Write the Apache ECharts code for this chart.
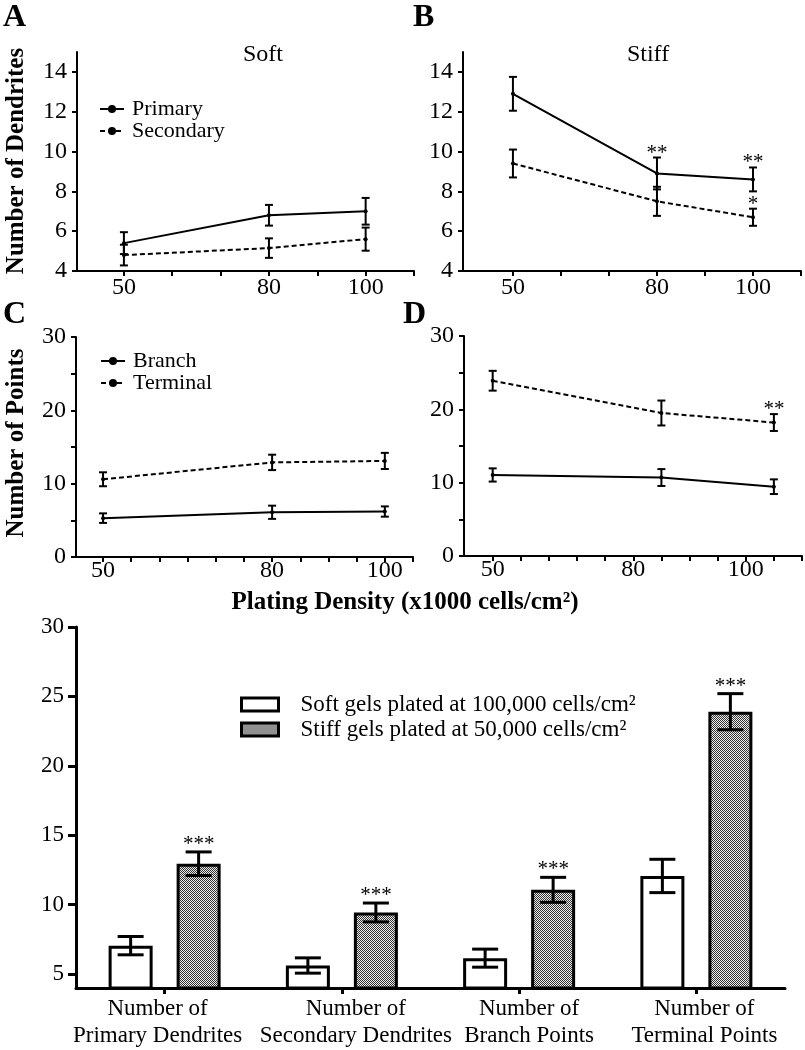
<!DOCTYPE html>
<html>
<head>
<meta charset="utf-8">
<script src="https://cdn.jsdelivr.net/npm/echarts@6/dist/echarts.min.js"></script>
<style>html,body{margin:0;padding:0;background:#fff;}#c{width:805px;height:1050px;}</style>
</head>
<body>
<div id="c"></div>
<script>
// ---------- DATA ----------
const densities = [50, 80, 100];
// Panel A (Soft) - dendrites
const softPrimary = [5.4, 6.8, 7.0];
const softPrimaryErr = [0.55, 0.52, 0.67];
const softSecondary = [4.8, 5.15, 5.6];
const softSecondaryErr = [0.52, 0.49, 0.58];
// Panel B (Stiff) - dendrites
const stiffPrimary = [12.9, 8.9, 8.6];
const stiffPrimaryErr = [0.85, 0.8, 0.6];
const stiffPrimarySig = ['', '**', '**'];
const stiffSecondary = [9.4, 7.5, 6.7];
const stiffSecondaryErr = [0.7, 0.73, 0.43];
const stiffSecondarySig = ['', '', '*'];
// Panel C (Soft) - points
const softBranch = [5.3, 6.1, 6.2];
const softBranchErr = [0.65, 0.9, 0.7];
const softTerminal = [10.6, 12.9, 13.1];
const softTerminalErr = [0.95, 1.05, 1.1];
// Panel D (Stiff) - points
const stiffBranch = [11.05, 10.7, 9.45];
const stiffBranchErr = [0.9, 1.15, 1.0];
const stiffTerminal = [23.9, 19.5, 18.2];
const stiffTerminalErr = [1.35, 1.7, 1.15];
const stiffTerminalSig = ['', '', '**'];
// Tick labels
const abTickValues = [50, 60, 70, 80, 90, 100, 110];
const abLabelValues = [50, 80, 100];
const cdTickValues = [50, 55, 60, 65, 70, 75, 80, 85, 90, 95, 100, 105];
const cLabelValues = [50, 80, 100];
const dLabelValues = [50, 75, 95];      // positions where panel D prints its labels
const dLabelTexts = ['50', '80', '100']; // texts printed there
const dendriteTicks = [4, 6, 8, 10, 12, 14];
const pointTicks = [0, 5, 10, 15, 20, 25, 30];
const pointLabels = [0, 10, 20, 30];
// Bottom bar chart
const barCategories = ['Number of\nPrimary Dendrites', 'Number of\nSecondary Dendrites', 'Number of\nBranch Points', 'Number of\nTerminal Points'];
const softBar = [7.05, 5.62, 6.15, 12.07];
const softBarErr = [0.66, 0.55, 0.65, 1.2];
const stiffBar = [12.95, 9.44, 11.07, 23.9];
const stiffBarErr = [0.85, 0.68, 0.9, 1.3];
const stiffBarSig = ['***', '***', '***', '***'];
const barTicks = [5, 10, 15, 20, 25, 30];
const softName = 'Soft gels plated at 100,000 cells/cm²';
const stiffName = 'Stiff gels plated at 50,000 cells/cm²';

// ---------- STYLE ----------
const FF = "'Liberation Serif', 'DejaVu Serif', serif";
const BLACK = '#000';
const pc = document.createElement('canvas');
pc.width = 2; pc.height = 2;
const g = pc.getContext('2d');
g.fillStyle = '#eeeeee'; g.fillRect(0, 0, 2, 2);
g.fillStyle = '#333333'; g.fillRect(0, 0, 1, 1); g.fillRect(1, 1, 1, 1);
const pattern = { image: pc, repeat: 'repeat' };

const BAR_W = 44, BAR_GAP_PX = 24;
// horizontal nudge (px) of each category label, as printed in the original
const catLabelShift = [-7, 14, 10, 8];

function errRender(capHalf, lw, sig, sigGap, sigFont, offset) {
  return function (params, api) {
    const x = api.value(0), y = api.value(1), e = api.value(2);
    const top = api.coord([x, y + e]);
    const bot = api.coord([x, y - e]);
    const dx = offset || 0;
    const cx = top[0] + dx;
    const st = { stroke: BLACK, lineWidth: lw };
    const children = [
      { type: 'line', shape: { x1: cx, y1: top[1], x2: cx, y2: bot[1] }, style: st },
      { type: 'line', shape: { x1: cx - capHalf, y1: top[1], x2: cx + capHalf, y2: top[1] }, style: st },
      { type: 'line', shape: { x1: cx - capHalf, y1: bot[1], x2: cx + capHalf, y2: bot[1] }, style: st }
    ];
    const s = sig ? sig[params.dataIndex] : '';
    if (s) {
      children.push({ type: 'text', style: { text: s, x: cx, y: top[1] - sigGap, align: 'center', verticalAlign: 'bottom', font: sigFont, fill: BLACK } });
    }
    return { type: 'group', children: children };
  };
}

function lineSeries(name, gi, xs, ys, dashed) {
  return {
    name: name, type: 'line', xAxisIndex: gi, yAxisIndex: gi,
    data: xs.map((x, i) => [x, ys[i]]),
    symbol: 'circle', symbolSize: 4, showSymbol: true,
    itemStyle: { color: BLACK },
    lineStyle: { color: BLACK, width: 2, type: dashed ? [5, 3] : 'solid' },
    animation: false, z: 3
  };
}
function errSeries(gi, xs, ys, es, sig) {
  return {
    type: 'custom', xAxisIndex: gi, yAxisIndex: gi,
    data: xs.map((x, i) => [x, ys[i], es[i]]),
    renderItem: errRender(4, 2, sig, -6, '21px ' + FF),
    animation: false, silent: true, z: 4
  };
}

const axisLine = { lineStyle: { color: BLACK, width: 2 } };
const tickStyle = { lineStyle: { color: BLACK, width: 2 } };
const labelStyle = { color: BLACK, fontFamily: FF, fontSize: 24 };

function xAxisLine(gi, min, max, labelVals, labelTexts) {
  return {
    type: 'value', gridIndex: gi, min: min, max: max,
    axisLine: Object.assign({ onZero: false }, axisLine),
    axisTick: Object.assign({ show: true, length: 5, inside: false, customValues: gi < 2 ? abTickValues : cdTickValues }, tickStyle),
    axisLabel: Object.assign({
      margin: gi < 2 ? 5 : 2, customValues: labelVals,
      formatter: labelTexts ? (v) => labelTexts[labelVals.indexOf(v)] : (v) => String(v)
    }, labelStyle),
    splitLine: { show: false }
  };
}
function yAxisLine(gi, min, max, tickVals, labelVals) {
  return {
    type: 'value', gridIndex: gi, min: min, max: max,
    axisLine: axisLine,
    axisTick: Object.assign({ show: true, length: 5, customValues: tickVals }, tickStyle),
    axisLabel: Object.assign({ margin: 10, customValues: labelVals }, labelStyle),
    splitLine: { show: false }
  };
}

const catRich = {};
catLabelShift.forEach((d, i) => {
  catRich['s' + i] = {
    color: BLACK, fontFamily: FF, fontSize: 23, lineHeight: 27,
    padding: d >= 0 ? [0, 0, 0, 2 * d] : [0, -2 * d, 0, 0]
  };
});

const option = {
  backgroundColor: '#fff',
  animation: false,
  grid: [
    { left: 77, top: 52, width: 337, height: 219 },
    { left: 463, top: 52, width: 338, height: 219 },
    { left: 76, top: 337, width: 337, height: 220 },
    { left: 464, top: 336, width: 338, height: 220 },
    { left: 76, top: 627, width: 709, height: 361 }
  ],
  xAxis: [
    xAxisLine(0, 40.3, 110, abLabelValues),
    xAxisLine(1, 39.6, 110, abLabelValues),
    xAxisLine(2, 45.2, 105, cLabelValues),
    xAxisLine(3, 44.9, 105, dLabelValues, dLabelTexts),
    {
      type: 'category', gridIndex: 4, data: barCategories,
      axisLine: { onZero: false, lineStyle: { color: BLACK, width: 3 } },
      axisTick: { show: true, alignWithLabel: true, length: 6, lineStyle: { color: BLACK, width: 3 } },
      axisLabel: {
        color: BLACK, fontFamily: FF, fontSize: 23, lineHeight: 27, margin: 7, interval: 0,
        formatter: (v, i) => v.split('\n').map(s => '{s' + i + '|' + s + '}').join('\n'),
        rich: catRich
      }
    }
  ],
  yAxis: [
    yAxisLine(0, 4, 15, dendriteTicks, dendriteTicks),
    yAxisLine(1, 4, 15, dendriteTicks, dendriteTicks),
    yAxisLine(2, 0, 30, pointTicks, pointLabels),
    yAxisLine(3, 0, 30, pointTicks, pointLabels),
    {
      type: 'value', gridIndex: 4, min: 4, max: 30,
      axisLine: { show: true, lineStyle: { color: BLACK, width: 3 } },
      axisTick: { show: true, length: 8, customValues: barTicks, lineStyle: { color: BLACK, width: 3 } },
      axisLabel: { color: BLACK, fontFamily: FF, fontSize: 23, margin: 12, customValues: barTicks },
      splitLine: { show: false }
    }
  ],
  legend: [
    {
      left: 99, top: 98, padding: 0, orient: 'vertical', itemWidth: 24, itemHeight: 10, itemGap: 0,
      selectedMode: false, data: ['Primary', 'Secondary'],
      textStyle: { color: BLACK, fontFamily: FF, fontSize: 22, lineHeight: 20, padding: [0, 0, 0, 3] }
    },
    {
      left: 100, top: 350, padding: 0, orient: 'vertical', itemWidth: 24, itemHeight: 10, itemGap: 0,
      selectedMode: false, data: ['Branch', 'Terminal'],
      textStyle: { color: BLACK, fontFamily: FF, fontSize: 22, lineHeight: 20, padding: [0, 0, 0, 3] }
    },
    {
      left: 240, top: 693, padding: 0, orient: 'vertical', itemWidth: 37, itemHeight: 13, itemGap: 2,
      selectedMode: false,
      data: [
        { name: softName, icon: 'rect', itemStyle: { color: '#fff', borderColor: BLACK, borderWidth: 3 } },
        { name: stiffName, icon: 'rect', itemStyle: { color: pattern, borderColor: BLACK, borderWidth: 3 } }
      ],
      textStyle: { color: BLACK, fontFamily: FF, fontSize: 23, lineHeight: 22, padding: [0, 0, 0, 17] }
    }
  ],
  series: [
    lineSeries('Primary', 0, densities, softPrimary, false),
    lineSeries('Secondary', 0, densities, softSecondary, true),
    errSeries(0, densities, softPrimary, softPrimaryErr),
    errSeries(0, densities, softSecondary, softSecondaryErr),

    lineSeries('Primary (stiff)', 1, densities, stiffPrimary, false),
    lineSeries('Secondary (stiff)', 1, densities, stiffSecondary, true),
    errSeries(1, densities, stiffPrimary, stiffPrimaryErr, stiffPrimarySig),
    errSeries(1, densities, stiffSecondary, stiffSecondaryErr, stiffSecondarySig),

    lineSeries('Branch', 2, densities, softBranch, false),
    lineSeries('Terminal', 2, densities, softTerminal, true),
    errSeries(2, densities, softBranch, softBranchErr),
    errSeries(2, densities, softTerminal, softTerminalErr),

    lineSeries('Branch (stiff)', 3, densities, stiffBranch, false),
    lineSeries('Terminal (stiff)', 3, densities, stiffTerminal, true),
    errSeries(3, densities, stiffBranch, stiffBranchErr),
    errSeries(3, densities, stiffTerminal, stiffTerminalErr, stiffTerminalSig),

    {
      name: softName, type: 'bar', xAxisIndex: 4, yAxisIndex: 4, data: softBar,
      barWidth: BAR_W, barGap: (BAR_GAP_PX / BAR_W * 100) + '%',
      itemStyle: { color: '#fff', borderColor: BLACK, borderWidth: 3 }, z: 2
    },
    {
      name: stiffName, type: 'bar', xAxisIndex: 4, yAxisIndex: 4, data: stiffBar,
      barWidth: BAR_W,
      itemStyle: { color: pattern, borderColor: BLACK, borderWidth: 3 }, z: 2
    },
    {
      type: 'custom', xAxisIndex: 4, yAxisIndex: 4,
      data: softBar.map((v, i) => [i, v, softBarErr[i]]),
      renderItem: errRender(13, 3, null, 0, '', -(BAR_W + BAR_GAP_PX) / 2),
      silent: true, z: 5
    },
    {
      type: 'custom', xAxisIndex: 4, yAxisIndex: 4,
      data: stiffBar.map((v, i) => [i, v, stiffBarErr[i]]),
      renderItem: errRender(13, 3, stiffBarSig, -3, '21px ' + FF, (BAR_W + BAR_GAP_PX) / 2),
      silent: true, z: 5
    }
  ],
  graphic: [
    { type: 'text', x: 3, y: 18, style: { text: 'A', font: 'bold 32px ' + FF, fill: BLACK, verticalAlign: 'middle' } },
    { type: 'text', x: 413, y: 18, style: { text: 'B', font: 'bold 32px ' + FF, fill: BLACK, verticalAlign: 'middle' } },
    { type: 'text', x: 3, y: 315, style: { text: 'C', font: 'bold 32px ' + FF, fill: BLACK, verticalAlign: 'middle' } },
    { type: 'text', x: 403, y: 315, style: { text: 'D', font: 'bold 32px ' + FF, fill: BLACK, verticalAlign: 'middle' } },
    { type: 'text', x: 263, y: 55, style: { text: 'Soft', font: '24px ' + FF, fill: BLACK, align: 'center', verticalAlign: 'middle' } },
    { type: 'text', x: 648, y: 55, style: { text: 'Stiff', font: '24px ' + FF, fill: BLACK, align: 'center', verticalAlign: 'middle' } },
    { type: 'text', x: 17, y: 161, rotation: Math.PI / 2, style: { text: 'Number of Dendrites', font: 'bold 25px ' + FF, fill: BLACK, align: 'center', verticalAlign: 'middle' } },
    { type: 'text', x: 17, y: 443, rotation: Math.PI / 2, style: { text: 'Number of Points', font: 'bold 25px ' + FF, fill: BLACK, align: 'center', verticalAlign: 'middle' } },
    { type: 'text', x: 405, y: 603, style: { text: 'Plating Density (x1000 cells/cm²)', font: 'bold 25px ' + FF, fill: BLACK, align: 'center', verticalAlign: 'middle' } }
  ]
};

const chart = echarts.init(document.getElementById('c'), null, { renderer: 'canvas' });
chart.setOption(option);
</script>
</body>
</html>
